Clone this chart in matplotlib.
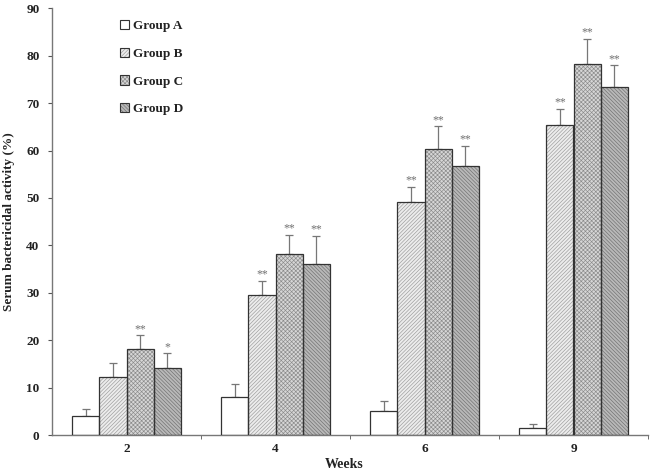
import matplotlib
matplotlib.use("Agg")
import matplotlib.pyplot as plt
import matplotlib.patches as mpatches
import numpy as np

weeks = ["2", "4", "6", "9"]
groups = ["Group A", "Group B", "Group C", "Group D"]
group_a = [4.1, 8.1, 5.1, 1.4]
group_b = [12.2, 29.5, 49.2, 65.3]
group_c = [18.1, 38.1, 60.4, 78.3]
group_d = [14.1, 36.1, 56.8, 73.4]
err_a = [1.4, 2.6, 2.0, 0.9]
err_b = [3.0, 3.0, 3.1, 3.5]
err_c = [2.9, 4.1, 4.7, 5.3]
err_d = [3.1, 5.9, 4.2, 4.6]
stars_a = ["", "", "", ""]
stars_b = ["", "**", "**", "**"]
stars_c = ["**", "**", "**", "**"]
stars_d = ["*", "**", "**", "**"]

plt.rcParams['font.family'] = ['Liberation Serif', 'DejaVu Serif']
plt.rcParams['hatch.linewidth'] = 0.45

fig = plt.figure(figsize=(6.52, 4.73), dpi=100)
ax = fig.add_axes([52/652, 1-435/473, 596/652, (435-8.4)/473])

values = [group_a, group_b, group_c, group_d]
errs = [err_a, err_b, err_c, err_d]
stars = [stars_a, stars_b, stars_c, stars_d]
facecolors = ['white', '#ececec', '#d6d6d6', '#b8b8b8']
hatchcolors = ['white', '#9a9a9a', '#8a8a8a', '#6e6e6e']
hatches = [None, '/////////', 'xxxxxxxx', '\\\\\\\\\\\\\\\\\\']
edge = '#333333'
w = 0.182
x = np.arange(len(weeks))
handles = []
for i in range(4):
    pos = x + (i - 1.5) * w
    ax.bar(pos, values[i], width=w, color=facecolors[i], edgecolor=hatchcolors[i],
           linewidth=0, hatch=hatches[i], zorder=2)
    ax.bar(pos, values[i], width=w, fill=False, edgecolor=edge,
           linewidth=0.9, zorder=3)
    h1 = mpatches.Patch(facecolor=facecolors[i], edgecolor=hatchcolors[i],
                        linewidth=0, hatch=hatches[i])
    h2 = mpatches.Patch(fill=False, edgecolor=edge, linewidth=0.8)
    handles.append((h1, h2))
    ax.errorbar(pos, values[i], yerr=[np.zeros(4), errs[i]], fmt='none',
                ecolor='#777777', elinewidth=0.9, capsize=3, capthick=0.9, zorder=1)
    for p, v, e, s in zip(pos, values[i], errs[i], stars[i]):
        if s:
            ax.annotate(s, (p, v + e), xytext=(0, 0.3), textcoords='offset points',
                        ha='center', va='bottom', fontsize=8.5, color='#707070')

ax.set_xlim(-0.5, 3.5)
ax.set_ylim(0, 90)
ax.set_yticks(np.arange(0, 91, 10))
ax.set_xticks(x)
ax.set_xticklabels(weeks)
ax.set_xticks(np.arange(0.5, 3.6, 1), minor=True)
ax.tick_params(axis='x', which='major', length=0, pad=6)
ax.tick_params(axis='x', which='minor', length=3, direction='out', color='#555555')
ax.tick_params(axis='y', length=3, direction='out', color='#555555', pad=6)
for lab in ax.get_xticklabels() + ax.get_yticklabels():
    lab.set_fontweight('bold')
    lab.set_fontsize(9.5)
    lab.set_color('#222222')
for sp in ['top', 'right']:
    ax.spines[sp].set_visible(False)
for sp in ['left', 'bottom']:
    ax.spines[sp].set_color('#777777')
    ax.spines[sp].set_linewidth(1.0)

ax.set_ylabel('Serum bactericidal activity (%)', fontsize=9.5, fontweight='bold', color='#222222')
ax.yaxis.set_label_coords(-0.062, 0.5)
ax.set_xlabel('Weeks', fontsize=10, fontweight='bold', color='#222222')
ax.xaxis.label.set_va('center')
ax.xaxis.set_label_coords(0.49, -0.068)

leg = fig.legend(handles=handles, labels=groups, loc='upper left',
                 bbox_to_anchor=(120/652, 1-20/473),
                 frameon=False, prop={'weight': 'bold', 'size': 9.5},
                 handlelength=0.7, handleheight=0.7, handletextpad=0.3,
                 labelspacing=1.17, borderpad=0, borderaxespad=0)
for t in leg.get_texts():
    t.set_color('#222222')

fig.savefig('out.png', dpi=100)
